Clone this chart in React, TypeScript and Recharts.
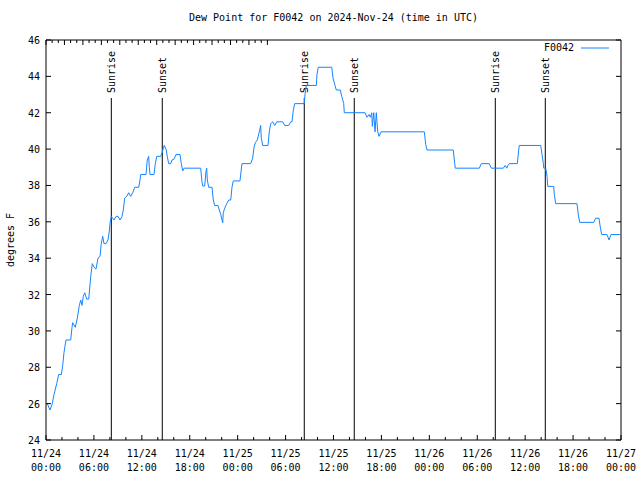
import React from 'react';
import { LineChart, Line, XAxis, YAxis, ReferenceLine } from 'recharts';

// hours since 2024-11-24 00:00 UTC
const hours = [
  0.16, 0.5, 0.79, 1.0, 1.34, 1.59, 1.92, 2.09, 2.25, 2.5, 3.09, 3.26, 3.34, 3.67, 3.92, 4.17, 4.35, 4.51, 4.67, 4.85,
  5.1, 5.35, 5.6, 5.8, 6.01, 6.26, 6.51, 6.76, 6.92, 7.1, 7.26, 7.51, 7.76, 7.93, 8.01, 8.18, 8.35, 8.51, 8.77, 9.02,
  9.27, 9.52, 9.68, 9.85, 10.11, 10.36, 10.61, 10.86, 11.11, 11.61, 11.77, 11.86, 12.52, 12.68, 12.86, 12.94, 13.02,
  13.52, 13.69, 13.86, 14.36, 14.53, 14.69, 14.81, 15.03, 15.19, 15.36, 15.61, 15.78, 16.03, 16.28, 16.78, 16.94,
  17.12, 17.28, 19.37, 19.53, 19.62, 19.87, 20.03, 20.12, 20.2, 20.37, 20.79, 20.95, 21.12, 21.54, 21.7, 21.88, 22.04,
  22.13, 22.2, 22.38, 22.63, 22.88, 23.13, 23.29, 23.45, 24.29, 24.54, 25.63, 25.88, 26.05, 26.21, 26.46, 26.71, 26.88,
  26.96, 27.14, 27.8, 27.96, 28.14, 28.39, 28.64, 28.89, 29.64, 29.89, 30.39, 30.64, 30.8, 30.97, 31.14, 32.34, 32.43,
  32.59, 33.85, 33.93, 34.1, 35.78, 35.94, 36.19, 36.35, 36.85, 37.03, 37.28, 37.35, 39.95, 40.2, 40.45, 40.61, 40.79,
  40.86, 41.04, 41.2, 41.36, 41.54, 41.7, 41.95, 47.37, 47.55, 47.71, 51.0, 51.18, 51.25, 54.26, 54.51, 55.51, 55.76,
  57.26, 57.51, 57.69, 57.85, 58.01, 59.02, 59.19, 59.27, 61.95, 62.11, 62.28, 62.33, 62.58, 62.74, 62.83, 63.58, 63.65,
  63.82, 66.49, 66.65, 66.83, 68.58, 68.83, 69.24, 69.41, 69.58, 70.25, 70.5, 70.75, 71.91,
];

const dewPointF = [
  26.0, 25.65, 26.0, 26.5, 27.1, 27.6, 27.6, 28.1, 28.8, 29.5, 29.5, 30.2, 30.45, 30.2, 30.7, 31.4, 31.7, 31.4, 31.9, 32.1,
  31.75, 31.75, 33.0, 33.7, 33.5, 33.4, 34.0, 34.1, 34.8, 35.2, 34.8, 34.8, 35.0, 35.5, 35.9, 36.3, 36.2, 36.1, 36.3, 36.3,
  36.1, 36.3, 36.65, 37.3, 37.4, 37.6, 37.4, 37.6, 37.9, 37.9, 38.3, 38.6, 38.6, 39.4, 39.6, 39.0, 38.6,
  38.6, 39.2, 39.6, 39.6, 39.8, 40.05, 40.2, 40.0, 39.6, 39.2, 39.2, 39.4, 39.45, 39.7, 39.7, 39.2,
  38.8, 38.95, 38.95, 38.2, 37.97, 37.97, 38.75, 38.95, 38.3, 37.9, 37.9, 37.2, 36.9, 36.9, 36.65, 36.4, 36.1,
  35.95, 36.5, 36.75, 37.0, 37.2, 37.2, 37.9, 38.25, 38.25, 39.2, 39.2, 39.5, 40.1, 40.35, 40.5, 40.95, 41.3,
  40.6, 40.2, 40.2, 40.95, 41.4, 41.5, 41.3, 41.5, 41.5, 41.3, 41.3, 41.5, 41.5, 42.15, 42.5, 42.5, 43.0,
  43.5, 43.5, 44.1, 44.5, 44.5, 43.9, 43.5, 43.25, 43.25, 42.9, 42.5, 42.0, 42.0, 41.75, 41.9, 41.75, 42.0,
  41.25, 42.0, 40.95, 42.0, 40.95, 40.7, 40.95, 40.95, 40.25, 39.95, 39.95, 39.2, 38.95, 38.95, 39.2, 39.2, 38.95,
  38.95, 39.1, 38.95, 39.1, 39.2, 39.2, 39.95, 40.2, 40.2, 39.7, 39.2, 38.95, 38.95, 38.5, 37.95, 37.95, 37.5,
  37.0, 37.0, 36.4, 35.97, 35.97, 36.2, 36.2, 35.7, 35.3, 35.3, 35.0, 35.3, 35.3,
];

const sunEventHours = [8.18, 14.56, 32.34, 38.6, 56.26, 62.52];
const sunEventNames = ['Sunrise', 'Sunset', 'Sunrise', 'Sunset', 'Sunrise', 'Sunset'];
const sunLineTop = 42.81;

const xTicks = [0, 2, 4, 6, 8, 10, 12, 14, 16, 18, 20, 22, 24, 26, 28, 30, 32, 34, 36, 38, 40, 42, 44, 46, 48, 50, 52, 54, 56, 58, 60, 62, 64, 66, 68, 70, 72];
const xMajorHours = [0, 6, 12, 18, 24, 30, 36, 42, 48, 54, 60, 66, 72];
const xTickDates = ['11/24', '11/24', '11/24', '11/24', '11/25', '11/25', '11/25', '11/25', '11/26', '11/26', '11/26', '11/26', '11/27'];
const xTickTimes = ['00:00', '06:00', '12:00', '18:00', '00:00', '06:00', '12:00', '18:00', '00:00', '06:00', '12:00', '18:00', '00:00'];
const yTicks = [24, 26, 28, 30, 32, 34, 36, 38, 40, 42, 44, 46];

const data = hours.map((h, i) => ({ h, v: dewPointF[i] }));

const FONT = '"DejaVu Sans Mono", "Liberation Mono", monospace';
const LINE_COLOR = '#1485ff';

const BottomTick = (props: any) => {
  const { x, y, payload } = props;
  const idx = xMajorHours.indexOf(payload.value);
  const major = idx >= 0;
  return (
    <g>
      <line x1={x} y1={y} x2={x} y2={y - (major ? 5 : 3)} stroke="#000" />
      {major && (
        <text x={x} y={y + 17} textAnchor="middle" fontFamily={FONT} fontSize={10} fill="#000">
          {xTickDates[idx]}
        </text>
      )}
      {major && (
        <text x={x} y={y + 31} textAnchor="middle" fontFamily={FONT} fontSize={10} fill="#000">
          {xTickTimes[idx]}
        </text>
      )}
    </g>
  );
};

const TopTick = (props: any) => {
  const { x, y, payload } = props;
  const major = xMajorHours.indexOf(payload.value) >= 0;
  return <line x1={x} y1={y} x2={x} y2={y + (major ? 5 : 3)} stroke="#000" />;
};

const LeftTick = (props: any) => {
  const { x, y, payload } = props;
  return (
    <g>
      <line x1={x} y1={y} x2={x + 5} y2={y} stroke="#000" />
      <text x={x - 6} y={y + 4} textAnchor="end" fontFamily={FONT} fontSize={10} fill="#000">
        {payload.value}
      </text>
    </g>
  );
};

const RightTick = (props: any) => {
  const { x, y } = props;
  return <line x1={x} y1={y} x2={x - 5} y2={y} stroke="#000" />;
};

const YLabel = (props: any) => {
  const vb = props.viewBox || { x: 0, y: 40, width: 46, height: 400 };
  const cx = 14;
  const cy = vb.y + vb.height / 2;
  return (
    <text x={cx} y={cy} transform={`rotate(-90, ${cx}, ${cy})`} textAnchor="middle" fontFamily={FONT} fontSize={10} fill="#000">
      degrees F
    </text>
  );
};

const makeSunLabel = (name: string) => (props: any) => {
  const vb = props.viewBox;
  if (!vb) return null;
  const lx = vb.x + 4;
  const ly = vb.y - 5;
  return (
    <text x={lx} y={ly} transform={`rotate(-90, ${lx}, ${ly})`} textAnchor="start" fontFamily={FONT} fontSize={10} fill="#000">
      {name}
    </text>
  );
};

export default function App() {
  return (
    <div style={{ position: 'absolute', left: 0, top: 0, width: 640, height: 480, background: '#fff' }}>
      <div
        style={{
          position: 'absolute',
          left: 46,
          width: 575,
          top: 12,
          textAlign: 'center',
          fontFamily: FONT,
          fontSize: 10,
          color: '#000',
          lineHeight: '12px',
        }}
      >
        Dew Point for F0042 on 2024-Nov-24 (time in UTC)
      </div>
      <div
        style={{
          position: 'absolute',
          left: 544,
          top: 42,
          display: 'flex',
          alignItems: 'center',
          fontFamily: FONT,
          fontSize: 10,
          color: '#000',
          lineHeight: '12px',
          zIndex: 2,
        }}
      >
        <span>F0042</span>
        <svg width={34} height={10} style={{ marginLeft: 4 }}>
          <line x1={3} y1={5} x2={31} y2={5} stroke={LINE_COLOR} strokeWidth={1} />
        </svg>
      </div>
      <LineChart width={640} height={480} data={data} margin={{ top: 30, right: 0, bottom: 0, left: 0 }}>
        <XAxis
          dataKey="h"
          type="number"
          domain={[0, 72]}
          ticks={xTicks}
          interval={0}
          tickSize={0}
          tickMargin={0}
          height={40}
          tick={<BottomTick />}
          axisLine={{ stroke: '#000' }}
          tickLine={false}
          allowDataOverflow
        />
        <XAxis
          xAxisId="top"
          orientation="top"
          type="number"
          domain={[0, 72]}
          ticks={xTicks}
          interval={0}
          tickSize={0}
          tickMargin={0}
          height={10}
          tick={<TopTick />}
          axisLine={{ stroke: '#000' }}
          tickLine={false}
          allowDataOverflow
        />
        <YAxis
          type="number"
          domain={[24, 46]}
          ticks={yTicks}
          interval={0}
          tickSize={0}
          tickMargin={0}
          width={46}
          tick={<LeftTick />}
          axisLine={{ stroke: '#000' }}
          tickLine={false}
          label={<YLabel />}
          allowDataOverflow
        />
        <YAxis
          yAxisId="right"
          orientation="right"
          type="number"
          domain={[24, 46]}
          ticks={yTicks}
          interval={0}
          tickSize={0}
          tickMargin={0}
          width={19}
          tick={<RightTick />}
          axisLine={{ stroke: '#000' }}
          tickLine={false}
          allowDataOverflow
        />
        {sunEventHours.map((h, i) => (
          <ReferenceLine
            key={i}
            segment={[
              { x: h, y: 24 },
              { x: h, y: sunLineTop },
            ]}
            stroke="#000"
            strokeWidth={1}
            label={makeSunLabel(sunEventNames[i])}
            ifOverflow="visible"
          />
        ))}
        <Line
          type="linear"
          dataKey="v"
          stroke={LINE_COLOR}
          strokeWidth={1}
          dot={false}
          isAnimationActive={false}
          name="F0042"
        />
      </LineChart>
    </div>
  );
}
